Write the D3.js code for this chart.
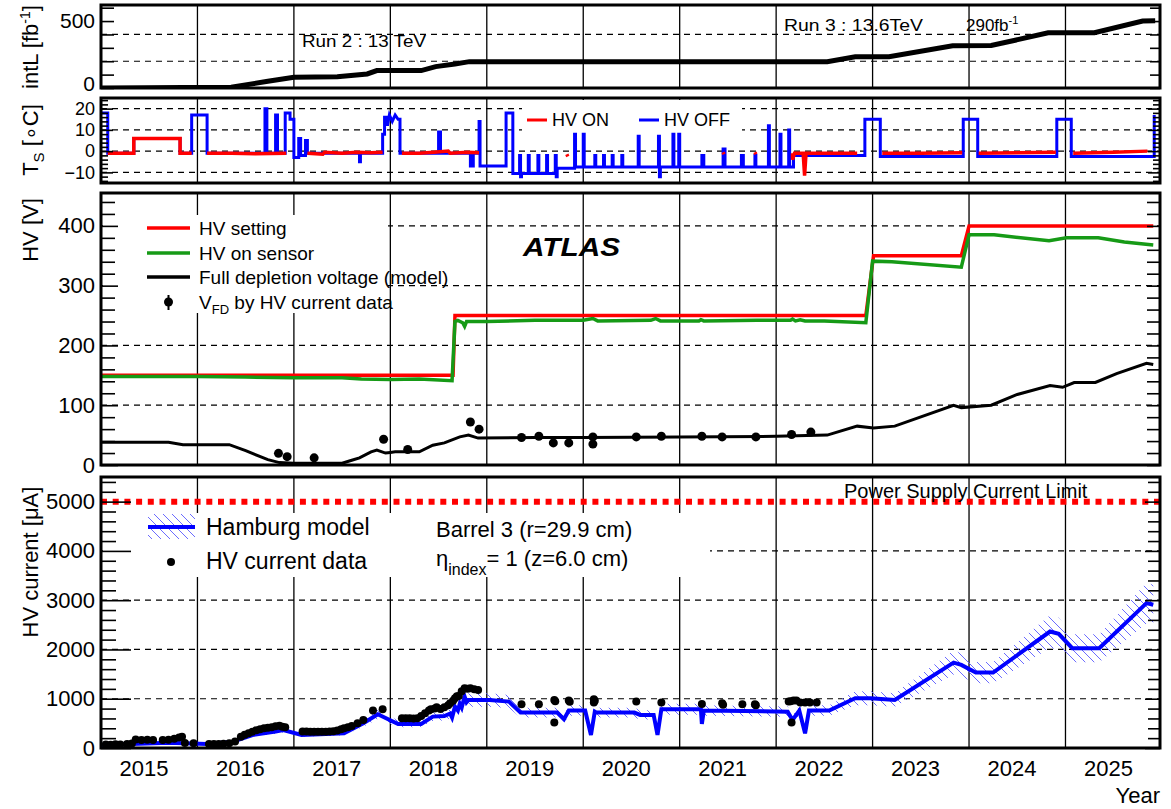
<!DOCTYPE html>
<html><head><meta charset="utf-8">
<script src="https://cdn.jsdelivr.net/npm/d3@7"></script>
<style>
body{margin:0;background:#fff}
text{font-family:"Liberation Sans",Arial,Helvetica,sans-serif;fill:#000}
</style>
</head><body>
<svg id="c" width="1171" height="809"></svg>
<script>
// ---------------- DATA ----------------
const yearLabels = ["2015","2016","2017","2018","2019","2020","2021","2022","2023","2024","2025"];
const yearLines = [2016,2017,2018,2019,2020,2021,2022,2023,2024,2025];

// integrated luminosity [fb^-1]
const intL = [[2015.0,0],[2015.45,1],[2015.85,4],[2016.35,6],[2016.73,50],[2017.0,80],[2017.45,84],[2017.76,105],[2017.86,130],[2018.32,130],[2018.47,160],[2018.67,180],[2018.82,197],[2022.53,197],[2022.82,233],[2023.17,233],[2023.83,315],[2024.23,317],[2024.82,412],[2025.3,413],[2025.8,500],[2025.93,502]];
const lumiTicksMajor = [0,500];
const lumiTicksMinor = [100,200,300,400,600];
const lumiDashed = [200,400];

// sensor temperature [C], HV OFF (blue) and HV ON (red)
const tempOff = [[2015.00,18],[2015.07,18],[2015.07,-1],[2015.34,-1],[2015.34,6],[2015.82,6],[2015.82,-1],[2015.94,-1],[2015.94,17],[2016.10,17],[2016.10,-1],
[2016.70,-1],[2016.70,20],[2016.72,20],[2016.72,-1],[2016.81,-1],[2016.81,17],[2016.83,17],[2016.83,-1],[2016.91,-1],[2016.91,18],[2016.96,18],[2016.96,15],[2017.00,15],[2017.00,-3],[2017.05,-3],[2017.05,6],[2017.07,6],[2017.07,-2],[2017.12,-2],[2017.12,5],[2017.14,5],[2017.14,-1],
[2017.68,-1],[2017.68,-5],[2017.69,-5],[2017.69,-1],
[2017.92,-1],[2017.92,8],[2017.94,8],[2017.94,16],[2017.97,16],[2017.97,12],[2017.99,17],[2018.02,14],[2018.05,17],[2018.08,15],[2018.10,15],[2018.10,-1],
[2018.50,-1],[2018.50,9],[2018.52,9],[2018.52,-1],
[2018.83,-1],[2018.83,-7],[2018.86,-7],[2018.86,-1],[2018.92,-1],[2018.92,14],[2018.93,14],[2018.93,-7],[2019.20,-7],[2019.20,18],[2019.27,18],[2019.27,-10.5],
[2019.34,-10.5],[2019.34,-2],[2019.35,-2],[2019.35,-12],[2019.36,-12],[2019.36,-10.5],
[2019.43,-10.5],[2019.43,-2],[2019.44,-2],[2019.44,-10.5],
[2019.53,-10.5],[2019.53,-2],[2019.54,-2],[2019.54,-10.5],
[2019.62,-10.5],[2019.62,-2],[2019.63,-2],[2019.63,-10.5],
[2019.71,-10.5],[2019.71,-2],[2019.72,-2],[2019.72,-12],[2019.73,-12],[2019.73,-8],
[2019.91,-8],[2019.91,8],[2019.92,8],[2019.92,-7.5],
[2020.00,-7.5],[2020.00,8],[2020.01,8],[2020.01,-7.5],
[2020.12,-7.5],[2020.12,-2],[2020.13,-2],[2020.13,-7.5],
[2020.21,-7.5],[2020.21,-2],[2020.22,-2],[2020.22,-7.5],
[2020.30,-7.5],[2020.30,-2],[2020.31,-2],[2020.31,-7.5],
[2020.40,-7.5],[2020.40,-2],[2020.41,-2],[2020.41,-7.5],
[2020.57,-7.5],[2020.57,7],[2020.58,7],[2020.58,-7.5],
[2020.78,-7.5],[2020.78,7],[2020.79,7],[2020.79,-12],[2020.80,-12],[2020.80,-7.5],
[2020.93,-7.5],[2020.93,8],[2020.94,8],[2020.94,-7.5],[2020.99,-7.5],[2020.99,8],[2021.00,8],[2021.00,-7.5],
[2021.23,-7.5],[2021.23,-2],[2021.25,-2],[2021.25,-7.5],
[2021.45,-7.5],[2021.45,1],[2021.47,1],[2021.47,-7.5],
[2021.64,-7.5],[2021.64,-2],[2021.66,-2],[2021.66,-7.5],
[2021.78,-7.5],[2021.78,-2],[2021.79,-2],[2021.79,-7.5],
[2021.92,-7.5],[2021.92,12],[2021.93,12],[2021.93,-7.5],
[2022.04,-7.5],[2022.04,8],[2022.05,8],[2022.05,-7.5],
[2022.13,-7.5],[2022.13,10],[2022.14,10],[2022.14,-7.5],
[2022.18,-7.5],[2022.18,-2],[2022.20,-2],
[2022.92,-2],[2022.92,15],[2023.08,15],[2023.08,-2.5],
[2023.94,-2.5],[2023.94,15],[2024.09,15],[2024.09,-2.5],
[2024.91,-2.5],[2024.91,15],[2025.06,15],[2025.06,-2.5],
[2025.92,-2.5],[2025.92,17]];
const tempOn = [
 [[2015.07,-1],[2015.34,-1],[2015.34,6],[2015.82,6],[2015.82,-1],[2015.94,-1]],
 [[2016.10,-1],[2016.35,-1],[2016.60,-1.2],[2016.92,-1]],
 [[2017.14,-1],[2017.30,-1.5],[2017.32,-0.5],[2017.50,-1],[2017.65,-0.5],[2017.80,-0.8],[2017.92,-0.5]],
 [[2018.12,-1],[2018.30,-1],[2018.45,-0.5],[2018.60,0],[2018.62,-1],[2018.80,-0.5],[2018.92,-0.8]],
 [[2019.83,-1.5],[2019.84,-2.5]],
 [[2021.45,-0.5],[2021.46,-1.5]],
 [[2021.78,-0.5],[2021.79,-1.5]],
 [[2022.17,-1],[2022.17,-4],[2022.19,-1],[2022.28,-1],[2022.295,-11.5],[2022.31,-1],[2022.84,-1]],
 [[2023.10,-1],[2023.50,-1],[2023.93,-0.8]],
 [[2024.10,-1],[2024.50,-0.8],[2024.90,-0.5]],
 [[2025.08,-1],[2025.50,-0.5],[2025.85,0]]
];
const tempTicksMajor = [-10,0,10,20];
const tempTicksMinor = [-14,-12,-8,-6,-4,-2,2,4,6,8,12,14,16,18,22,24];
const tempDashed = [-10,0,10,20];

// HV [V]
const hvSetting = [[2015.0,150],[2018.65,150],[2018.67,250],[2022.93,250],[2023.01,350],[2023.92,350],[2024.0,400],[2025.91,400]];
const hvSensor = [[2015.0,148],[2016.0,148],[2016.5,147],[2017.0,146],[2017.5,146],[2017.7,144],[2018.0,143],[2018.3,144],[2018.64,141],[2018.67,240],[2018.70,242],[2018.75,238],[2018.77,232],[2018.79,240],[2019.0,240],[2019.5,242],[2020.0,242],[2020.1,245],[2020.15,241],[2020.7,242],[2020.75,245],[2020.8,241],[2021.2,241],[2021.22,243],[2021.25,241],[2021.8,242],[2022.15,242],[2022.17,244],[2022.2,241],[2022.25,243],[2022.3,241],[2022.5,241],[2022.93,238],[2023.0,341],[2023.2,340],[2023.92,331],[2024.0,385],[2024.26,385],[2024.83,375],[2025.01,380],[2025.34,380],[2025.61,373],[2025.91,368]];
const vfdModel = [[2015.0,38],[2015.7,38],[2015.85,34],[2016.33,34],[2016.5,24],[2016.73,9],[2016.85,4],[2017.0,3],[2017.5,3],[2017.6,8],[2017.68,12],[2017.8,22],[2017.86,25],[2017.95,20],[2018.0,21],[2018.05,22],[2018.3,22],[2018.44,33],[2018.56,37],[2018.72,47],[2018.81,50],[2018.91,45],[2019.5,46],[2020.0,46],[2021.0,47],[2022.0,48],[2022.53,50],[2022.84,65],[2023.01,62],[2023.23,65],[2023.84,100],[2023.92,96],[2024.23,100],[2024.5,118],[2024.84,133],[2024.97,130],[2025.09,138],[2025.31,138],[2025.53,153],[2025.84,170],[2025.91,168]];
const vfdData = [[2016.84,19.5],[2016.93,14],[2017.21,12],[2017.93,43],[2018.18,26],[2018.83,72],[2018.92,60],[2019.36,46],[2019.54,48],[2019.69,37],[2019.85,37],[2020.10,47],[2020.10,35],[2020.55,47],[2020.81,48],[2021.23,48],[2021.44,47],[2021.79,47],[2022.16,51],[2022.36,55]];
const hvTicksMajor = [0,100,200,300,400];
const hvTicksMinor = [20,40,60,80,120,140,160,180,220,240,260,280,320,340,360,380,420,440];
const hvDashed = [100,200,300,400];

// HV current [uA]
const hamburg = [[2015.0,60],[2015.7,108],[2016.1,81],[2016.37,129],[2016.57,264],[2016.81,332],[2016.89,366],[2017.08,264],[2017.52,298],[2017.72,502],[2017.87,685],[2018.08,488],[2018.32,488],[2018.44,637],[2018.56,650],[2018.62,700],[2018.64,620],[2018.67,840],[2018.70,760],[2018.72,900],[2018.74,820],[2018.77,1043],[2018.79,930],[2018.81,976],[2019.03,976],[2019.23,942],[2019.35,718],[2019.73,718],[2019.80,583],[2019.85,759],[2020.02,759],[2020.08,264],[2020.12,740],[2020.14,718],[2020.53,718],[2020.59,671],[2020.73,671],[2020.77,264],[2020.81,786],[2021.22,786],[2021.23,488],[2021.25,759],[2022.12,738],[2022.17,569],[2022.24,759],[2022.30,298],[2022.34,759],[2022.55,759],[2022.82,1009],[2022.98,1009],[2023.23,976],[2023.84,1734],[2023.92,1687],[2024.07,1531],[2024.25,1531],[2024.84,2364],[2024.93,2317],[2025.07,2026],[2025.35,2026],[2025.84,2940],[2025.91,2906]];
const hamburgBand = 0.14;
const currentData = [[2015.05,70],[2015.10,65],[2015.15,75],[2015.20,70],[2015.27,80],[2015.32,90],[2015.36,170],[2015.42,160],[2015.48,165],[2015.54,160],[2015.64,160],[2015.70,165],[2015.76,190],[2015.81,215],[2015.84,230],[2015.87,100],[2015.96,95],
[2016.12,80],[2016.17,80],[2016.22,82],[2016.27,85],[2016.33,95],[2016.39,130],[2016.45,230],[2016.49,270],[2016.53,300],[2016.57,330],[2016.61,360],[2016.65,380],[2016.69,400],[2016.73,410],[2016.77,420],[2016.81,440],[2016.85,450],[2016.88,430],[2016.91,420],
[2017.09,335],[2017.13,335],[2017.17,330],[2017.21,332],[2017.25,330],[2017.29,330],[2017.33,332],[2017.37,335],[2017.41,340],[2017.45,355],[2017.49,380],[2017.52,400],[2017.56,420],[2017.60,447],[2017.66,502],[2017.72,569],[2017.82,760],[2017.92,786],
[2018.12,603],[2018.16,603],[2018.20,603],[2018.24,600],[2018.28,605],[2018.32,650],[2018.36,705],[2018.40,760],[2018.42,786],[2018.46,800],[2018.48,827],[2018.52,790],[2018.56,827],[2018.60,870],[2018.62,908],[2018.65,960],[2018.67,1009],[2018.69,1050],[2018.71,1057],[2018.74,1150],[2018.77,1213],[2018.80,1200],[2018.83,1213],[2018.87,1190],[2018.91,1179],
[2019.36,888],[2019.54,888],[2019.70,976],[2019.70,515],[2019.71,950],[2019.85,962],[2019.86,940],
[2020.11,990],[2020.11,925],[2020.12,960],[2020.55,942],[2020.81,922],
[2021.23,895],[2021.44,908],[2021.45,880],[2021.65,888],[2021.78,888],[2021.79,870],
[2022.13,942],[2022.15,950],[2022.16,515],[2022.18,962],[2022.21,962],[2022.25,922],[2022.30,922],[2022.35,922],[2022.42,922]];
const currentLimit = 5000;
const curTicksMajor = [0,1000,2000,3000,4000,5000];
const curTicksMinor = d3.range(200,5500,200).filter(v => v % 1000 !== 0);
const curDashed = [1000,2000,3000,4000];

// ---------------- LAYOUT ----------------
const svg = d3.select("#c");
const L = 101, R = 1160;
const x = d3.scaleLinear().domain([2015.0, 2025.98]).range([L, R]);
const FONT = '"Liberation Sans",Arial,Helvetica,sans-serif';

const defs = svg.append("defs");
const hatch = defs.append("pattern").attr("id","hatch").attr("patternUnits","userSpaceOnUse")
  .attr("width",9).attr("height",9);
hatch.append("path").attr("d","M-2,-2 L11,11 M-2,7 L2,11 M7,-2 L11,2")
  .attr("stroke","#5a5aff").attr("stroke-width",0.9).attr("fill","none");

function makePanel(id, top, bottom, domain){
  const y = d3.scaleLinear().domain(domain).range([bottom, top]);
  defs.append("clipPath").attr("id","clip-"+id).append("rect")
    .attr("x",L).attr("y",top).attr("width",R-L).attr("height",bottom-top);
  const g = svg.append("g");
  return {id, top, bottom, y, g, clip:"url(#clip-"+id+")"};
}

function grid(p, dashed){
  p.g.append("g").selectAll("line").data(yearLines).join("line")
    .attr("x1",d=>x(d)).attr("x2",d=>x(d)).attr("y1",p.top).attr("y2",p.bottom)
    .attr("stroke","#000").attr("stroke-width",1.3);
  p.g.append("g").selectAll("line").data(dashed).join("line")
    .attr("x1",L).attr("x2",R).attr("y1",d=>p.y(d)).attr("y2",d=>p.y(d))
    .attr("stroke","#000").attr("stroke-width",1.2).attr("stroke-dasharray","6,5");
}
function whiteBox(p, x0, y0, x1, y1){
  p.g.append("rect").attr("x",x0).attr("y",y0).attr("width",x1-x0).attr("height",y1-y0).attr("fill","#fff");
}
function frameAndTicks(p, major, minor, lm, ln, rm, rn, fmt, fs){
  const ax = p.g.append("g").attr("transform",`translate(${L},0)`)
    .call(d3.axisLeft(p.y).tickValues(major).tickSize(-lm).tickPadding(6).tickFormat(fmt));
  ax.select(".domain").remove();
  ax.selectAll("line").attr("stroke","#000").attr("stroke-width",1.6);
  ax.selectAll("text").style("font-family",FONT).style("font-size",fs+"px").attr("fill","#000");
  const axm = p.g.append("g").attr("transform",`translate(${L},0)`)
    .call(d3.axisLeft(p.y).tickValues(minor).tickSize(-ln).tickFormat(""));
  axm.select(".domain").remove();
  axm.selectAll("line").attr("stroke","#000").attr("stroke-width",1.6);
  const ar = p.g.append("g").attr("transform",`translate(${R},0)`)
    .call(d3.axisRight(p.y).tickValues(major).tickSize(-rm).tickFormat(""));
  ar.select(".domain").remove();
  ar.selectAll("line").attr("stroke","#000").attr("stroke-width",1.6);
  const arm = p.g.append("g").attr("transform",`translate(${R},0)`)
    .call(d3.axisRight(p.y).tickValues(minor).tickSize(-rn).tickFormat(""));
  arm.select(".domain").remove();
  arm.selectAll("line").attr("stroke","#000").attr("stroke-width",1.6);
  p.g.append("rect").attr("x",L).attr("y",p.top).attr("width",R-L).attr("height",p.bottom-p.top)
    .attr("fill","none").attr("stroke","#000").attr("stroke-width",3);
  return ax;
}
function yTitle(cx, cy, build){
  const t = svg.append("text").attr("transform",`translate(${cx},${cy}) rotate(-90)`)
    .attr("text-anchor","middle").style("font-size","22px");
  build(t);
}
const minusFmt = d => d < 0 ? "\u2212" + Math.abs(d) : String(d);

// ---------------- PANEL 1: intL ----------------
const p1 = makePanel("lumi", 5, 88, [0,620]);
grid(p1, lumiDashed);
p1.g.append("path").datum(intL).attr("clip-path",p1.clip)
  .attr("d", d3.line().x(d=>x(d[0])).y(d=>p1.y(d[1])))
  .attr("fill","none").attr("stroke","#000").attr("stroke-width",5);
p1.g.append("text").attr("x",302).attr("y",47).attr("textLength",124).attr("lengthAdjust","spacingAndGlyphs")
  .style("font-size","17px").text("Run 2 : 13 TeV");
const r3 = p1.g.append("text").attr("x",784).attr("y",31).style("font-size","17px");
r3.append("tspan").attr("textLength",139).attr("lengthAdjust","spacingAndGlyphs").text("Run 3 : 13.6TeV");
r3.append("tspan").attr("x",966).text("290fb");
r3.append("tspan").attr("dy",-7).style("font-size","11px").text("-1");
const ax1 = frameAndTicks(p1, lumiTicksMajor, lumiTicksMinor, 13, 13, 10, 10, d=>String(d), 21);
ax1.selectAll("text").filter(d=>d===0).attr("dy","0.12em");
yTitle(38, 47, t=>{ t.append("tspan").text("intL [fb"); t.append("tspan").attr("dy",-8).style("font-size","14px").text("-1"); t.append("tspan").attr("dy",8).text("]"); });

// ---------------- PANEL 2: temperature ----------------
const p2 = makePanel("temp", 98, 183, [-15,25]);
grid(p2, tempDashed);
whiteBox(p2, 522, 100, 742, 133);
const tline = d3.line().x(d=>x(d[0])).y(d=>p2.y(d[1]));
p2.g.append("path").datum(tempOff).attr("clip-path",p2.clip).attr("d",tline)
  .attr("fill","none").attr("stroke","#0000ff").attr("stroke-width",3);
p2.g.append("g").attr("clip-path",p2.clip).selectAll("path").data(tempOn).join("path")
  .attr("d",tline).attr("fill","none").attr("stroke","#ff0000").attr("stroke-width",3.5);
// legend
p2.g.append("line").attr("x1",527).attr("x2",547).attr("y1",120).attr("y2",120).attr("stroke","#ff0000").attr("stroke-width",3);
p2.g.append("text").attr("x",552).attr("y",126).style("font-size","18px").text("HV ON");
p2.g.append("line").attr("x1",639).attr("x2",659).attr("y1",120).attr("y2",120).attr("stroke","#0000ff").attr("stroke-width",3);
p2.g.append("text").attr("x",664).attr("y",126).style("font-size","18px").text("HV OFF");
frameAndTicks(p2, tempTicksMajor, tempTicksMinor, 12, 7, 12, 7, minusFmt, 18);
yTitle(38, 140, t=>{ t.append("tspan").text("T"); t.append("tspan").attr("dy",6).style("font-size","15px").text("S"); t.append("tspan").attr("dy",-6).text(" [\u2218C]"); });

// ---------------- PANEL 3: HV ----------------
const p3 = makePanel("hv", 193, 465, [0,455]);
grid(p3, hvDashed);
whiteBox(p3, 103, 215, 388, 313);
const hline = d3.line().x(d=>x(d[0])).y(d=>p3.y(d[1]));
p3.g.append("path").datum(hvSetting).attr("clip-path",p3.clip).attr("d",hline)
  .attr("fill","none").attr("stroke","#ff0000").attr("stroke-width",3.5);
p3.g.append("path").datum(hvSensor).attr("clip-path",p3.clip).attr("d",hline)
  .attr("fill","none").attr("stroke","#169a16").attr("stroke-width",3.5);
p3.g.append("path").datum(vfdModel).attr("clip-path",p3.clip).attr("d",hline)
  .attr("fill","none").attr("stroke","#000").attr("stroke-width",3);
p3.g.append("g").attr("clip-path",p3.clip).selectAll("circle").data(vfdData).join("circle")
  .attr("cx",d=>x(d[0])).attr("cy",d=>p3.y(d[1])).attr("r",4.5).attr("fill","#000");
// legend
const lg3 = [["#ff0000","HV setting",228],["#169a16","HV on sensor",253],["#000","Full depletion voltage (model)",277]];
lg3.forEach(([c,t,yy])=>{
  p3.g.append("line").attr("x1",147).attr("x2",190).attr("y1",yy).attr("y2",yy).attr("stroke",c).attr("stroke-width",3.5);
  p3.g.append("text").attr("x",199).attr("y",yy+7).style("font-size","19px").text(t);
});
p3.g.append("line").attr("x1",168.5).attr("x2",168.5).attr("y1",295).attr("y2",310).attr("stroke","#000").attr("stroke-width",2);
p3.g.append("circle").attr("cx",168.5).attr("cy",302).attr("r",4.5).attr("fill","#000");
const vfdT = p3.g.append("text").attr("x",199).attr("y",309).style("font-size","19px");
vfdT.append("tspan").text("V");
vfdT.append("tspan").attr("dy",5).style("font-size","13px").text("FD");
vfdT.append("tspan").attr("dy",-5).text(" by HV current data");
p3.g.append("text").attr("x",523).attr("y",256).attr("textLength",97).attr("lengthAdjust","spacingAndGlyphs")
  .style("font-size","26px").style("font-weight","bold").style("font-style","italic").text("ATLAS");
frameAndTicks(p3, hvTicksMajor, hvTicksMinor, 17, 14, 13, 13, d=>String(d), 22);
yTitle(38, 230, t=>{ t.text("HV [V]"); });

// ---------------- PANEL 4: HV current ----------------
const p4 = makePanel("cur", 477, 748, [0,5500]);
grid(p4, curDashed);
whiteBox(p4, 103, 513, 710, 577);
p4.g.append("path").datum(hamburg).attr("clip-path",p4.clip)
  .attr("d", d3.area().x(d=>x(d[0])).y0(d=>p4.y(d[1]*(1-hamburgBand))).y1(d=>p4.y(d[1]*(1+hamburgBand))))
  .attr("fill","url(#hatch)").attr("stroke","none");
p4.g.append("path").datum(hamburg).attr("clip-path",p4.clip)
  .attr("d", d3.line().x(d=>x(d[0])).y(d=>p4.y(d[1])))
  .attr("fill","none").attr("stroke","#0000ff").attr("stroke-width",4);
p4.g.append("g").attr("clip-path",p4.clip).selectAll("circle").data(currentData).join("circle")
  .attr("cx",d=>x(d[0])).attr("cy",d=>p4.y(d[1])).attr("r",4).attr("fill","#000");
p4.g.append("line").attr("x1",L).attr("x2",R).attr("y1",p4.y(currentLimit)).attr("y2",p4.y(currentLimit))
  .attr("stroke","#ff0000").attr("stroke-width",6).attr("stroke-dasharray","6,5.7");
p4.g.append("text").attr("x",844).attr("y",498).style("font-size","20px").text("Power Supply Current Limit");
// legend
p4.g.append("rect").attr("x",148).attr("y",514).attr("width",47).attr("height",25).attr("fill","url(#hatch)");
p4.g.append("line").attr("x1",148).attr("x2",195).attr("y1",527).attr("y2",527).attr("stroke","#0000ff").attr("stroke-width",4);
p4.g.append("text").attr("x",206).attr("y",535).style("font-size","23px").text("Hamburg model");
p4.g.append("circle").attr("cx",171).attr("cy",562).attr("r",4).attr("fill","#000");
p4.g.append("text").attr("x",206).attr("y",569).style("font-size","23px").text("HV current data");
p4.g.append("text").attr("x",436).attr("y",537).style("font-size","22px").text("Barrel 3 (r=29.9 cm)");
const eta = p4.g.append("text").attr("x",436).attr("y",566).style("font-size","22px");
eta.append("tspan").text("\u03b7");
eta.append("tspan").attr("dy",9).style("font-size","16px").text("index");
eta.append("tspan").attr("dy",-9).text("= 1 (z=6.0 cm)");
frameAndTicks(p4, curTicksMajor, curTicksMinor, 30, 15, 15, 12, d=>String(d), 22);
yTitle(38, 562, t=>{ t.text("HV current [\u03bcA]"); });

// x axis labels
const xa = svg.append("g").attr("transform","translate(0,752)")
  .call(d3.axisBottom(x).tickValues(yearLabels.map(s=>+s+0.44)).tickSize(0).tickPadding(8).tickFormat(d=>String(Math.floor(d))));
xa.select(".domain").remove();
xa.selectAll("text").style("font-family",FONT).style("font-size","22px").attr("fill","#000");
svg.append("text").attr("x",1160).attr("y",803).attr("text-anchor","end").style("font-size","22px").text("Year");
</script>
</body></html>
